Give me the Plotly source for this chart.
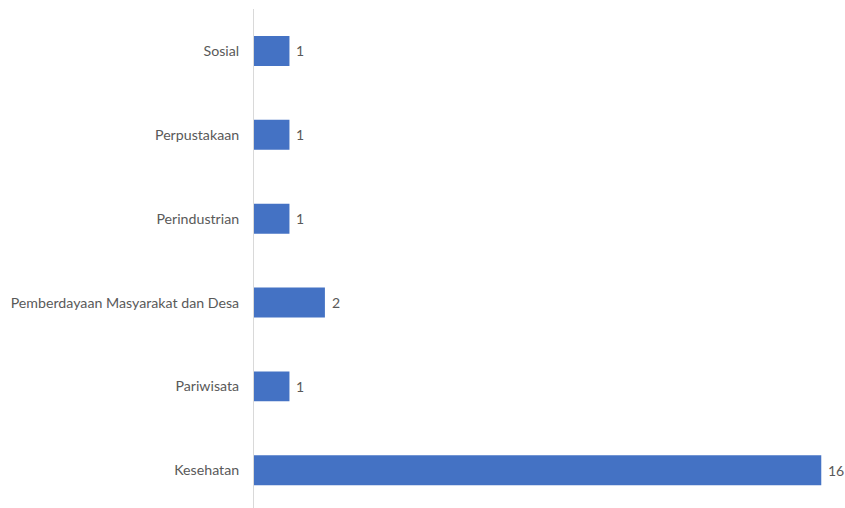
import plotly.graph_objects as go

# Categories listed bottom-to-top as they appear on the y axis
categories = [
    "Kesehatan",
    "Pariwisata",
    "Pemberdayaan Masyarakat dan Desa",
    "Perindustrian",
    "Perpustakaan",
    "Sosial",
]
counts = [16, 1, 2, 1, 1, 1]

BAR_COLOR = "#4472C4"
TEXT_COLOR = "#595959"
FONT = "Lato, 'Open Sans', sans-serif"

fig = go.Figure()
fig.add_trace(
    go.Bar(
        x=counts,
        y=categories,
        orientation="h",
        marker=dict(color=BAR_COLOR, line=dict(width=0)),
        width=0.357,
        hoverinfo="skip",
    )
)

# Value labels just past the end of each bar
for cat, val in zip(categories, counts):
    fig.add_annotation(
        x=val,
        y=cat,
        text=str(val),
        showarrow=False,
        xanchor="left",
        xshift=5,
        font=dict(family=FONT, size=14, color=TEXT_COLOR),
    )

fig.update_layout(
    width=845,
    height=508,
    margin=dict(l=254, r=6, t=9, b=0),
    paper_bgcolor="white",
    plot_bgcolor="white",
    showlegend=False,
    font=dict(family=FONT, size=14, color=TEXT_COLOR),
    xaxis=dict(
        range=[0, 16.5],
        showgrid=False,
        zeroline=False,
        showticklabels=False,
        showline=False,
    ),
    yaxis=dict(
        type="category",
        range=[-0.45, 5.5],
        showgrid=False,
        zeroline=False,
        showline=True,
        linecolor="#D9D9D9",
        linewidth=1,
        ticks="",
        ticklabelstandoff=11,
        tickfont=dict(family=FONT, size=14.2, color=TEXT_COLOR),
    ),
)

fig.write_html("out.html")
